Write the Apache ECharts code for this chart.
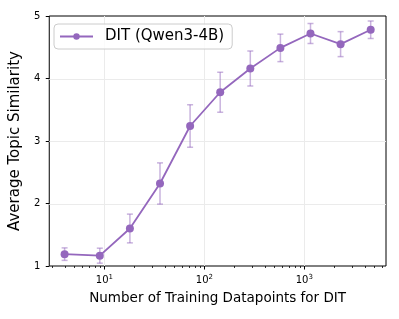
<!DOCTYPE html>
<html>
<head>
<meta charset="utf-8">
<script src="https://cdn.jsdelivr.net/npm/echarts@6/dist/echarts.min.js"></script>
<style>html,body{margin:0;padding:0;background:#fff;}#c{width:399px;height:319px;}</style>
</head>
<body>
<div id="c"></div>
<script>
// ---- data ----
var trainSizes = [4, 9, 18, 36, 72, 144, 288, 576, 1152, 2304, 4608];
var similarity = [1.19, 1.165, 1.60, 2.32, 3.24, 3.78, 4.16, 4.49, 4.72, 4.55, 4.78];
var errors = [0.10, 0.12, 0.23, 0.33, 0.34, 0.32, 0.28, 0.22, 0.16, 0.20, 0.14];
var seriesName = 'DIT (Qwen3-4B)';
var xMajorTicks = [10, 100, 1000];
var xMinorTicks = [3,4,5,6,7,8,9,20,30,40,50,60,70,80,90,200,300,400,500,600,700,800,900,2000,3000,4000,5000,6000];
var yTicks = [1, 2, 3, 4, 5];
var yGridLines = [2, 3, 4];

var purple = '#9467bd';
var font = 'DejaVu Sans';

var chart = echarts.init(document.getElementById('c'), null, {renderer: 'canvas'});

var lineData = trainSizes.map(function (x, i) { return [x, similarity[i]]; });
var errData = trainSizes.map(function (x, i) { return [x, similarity[i] - errors[i], similarity[i] + errors[i]]; });

function vline(x, y1, y2, style) {
  return {type: 'line', shape: {x1: x, y1: y1, x2: x, y2: y2}, style: style};
}

var option = {
  animation: false,
  backgroundColor: '#fff',
  grid: {left: 46, top: 16, right: 13, bottom: 53, show: true, borderColor: '#000', borderWidth: 1, backgroundColor: 'transparent'},
  legend: {
    left: 54, top: 24,
    data: [seriesName],
    itemWidth: 33, itemHeight: 8,
    padding: [5, 8, 5, 5],
    borderColor: '#cccccc', borderWidth: 1, borderRadius: 4,
    backgroundColor: 'rgba(255,255,255,0.8)',
    textStyle: {fontFamily: font, fontSize: 15, color: '#000', padding: [0, 0, 0, 7]}
  },
  xAxis: {
    type: 'log', logBase: 10, min: 2.81, max: 6556,
    name: 'Number of Training Datapoints for DIT',
    nameLocation: 'middle', nameGap: 22,
    nameTextStyle: {fontFamily: font, fontSize: 13.5, color: '#000'},
    axisLine: {show: false},
    axisTick: {show: false},
    splitLine: {show: false},
    axisLabel: {
      margin: 7,
      fontFamily: font, color: '#000',
      formatter: function (v) {
        var e = Math.log10(v);
        if (Math.abs(e - Math.round(e)) > 1e-6 || xMajorTicks.indexOf(Math.round(v)) < 0) return '';
        return '{b|10}{s|' + Math.round(e) + '}';
      },
      rich: {
        b: {fontFamily: font, fontSize: 10, color: '#000', lineHeight: 14},
        s: {fontFamily: font, fontSize: 7, color: '#000', padding: [0, 0, 6, 0], lineHeight: 14}
      }
    }
  },
  yAxis: {
    type: 'value', min: 1, max: 5, interval: 1,
    name: 'Average Topic Similarity',
    nameLocation: 'middle', nameGap: 21,
    nameTextStyle: {fontFamily: font, fontSize: 15, color: '#000'},
    axisLine: {show: false},
    axisTick: {show: true, length: 3.5, lineStyle: {color: '#000', width: 1}},
    splitLine: {show: false},
    axisLabel: {margin: 9, fontFamily: font, fontSize: 10, color: '#000'}
  },
  series: [
    {
      type: 'custom', name: 'grid', silent: true, z: 1,
      data: [0],
      renderItem: function (params, api) {
        var ch = [];
        var gs = {stroke: '#ebebeb', lineWidth: 1};
        xMajorTicks.forEach(function (v) {
          var a = api.coord([v, 1]), b = api.coord([v, 5]);
          ch.push(vline(Math.round(a[0]) + 0.5, a[1], b[1], gs));
        });
        yGridLines.forEach(function (v) {
          var a = api.coord([2.81, v]), b = api.coord([6556, v]);
          var y = Math.round(a[1]) + 0.5;
          ch.push({type: 'line', shape: {x1: a[0], y1: y, x2: b[0], y2: y}, style: gs});
        });
        var ts = {stroke: '#000', lineWidth: 1};
        xMajorTicks.forEach(function (v) {
          var a = api.coord([v, 1]);
          ch.push(vline(Math.round(a[0]) + 0.5, a[1], a[1] + 3.5, ts));
        });
        xMinorTicks.forEach(function (v) {
          var a = api.coord([v, 1]);
          ch.push(vline(Math.round(a[0]) + 0.5, a[1], a[1] + 2, {stroke: '#000', lineWidth: 0.8}));
        });
        return {type: 'group', children: ch};
      }
    },
    {
      type: 'custom', name: 'err', silent: true, z: 3,
      data: errData,
      renderItem: function (params, api) {
        var x = api.value(0);
        var lo = api.coord([x, api.value(1)]);
        var hi = api.coord([x, api.value(2)]);
        var st = {stroke: 'rgba(148,103,189,0.5)', lineWidth: 1.5};
        var w = 3;
        return {type: 'group', children: [
          vline(lo[0], lo[1], hi[1], st),
          {type: 'line', shape: {x1: lo[0] - w, y1: lo[1], x2: lo[0] + w, y2: lo[1]}, style: st},
          {type: 'line', shape: {x1: hi[0] - w, y1: hi[1], x2: hi[0] + w, y2: hi[1]}, style: st}
        ]};
      }
    },
    {
      type: 'line', name: seriesName, z: 4,
      data: lineData,
      symbol: 'circle', symbolSize: 8,
      lineStyle: {color: purple, width: 1.8},
      itemStyle: {color: purple}
    }
  ]
};
chart.setOption(option);
</script>
</body>
</html>
